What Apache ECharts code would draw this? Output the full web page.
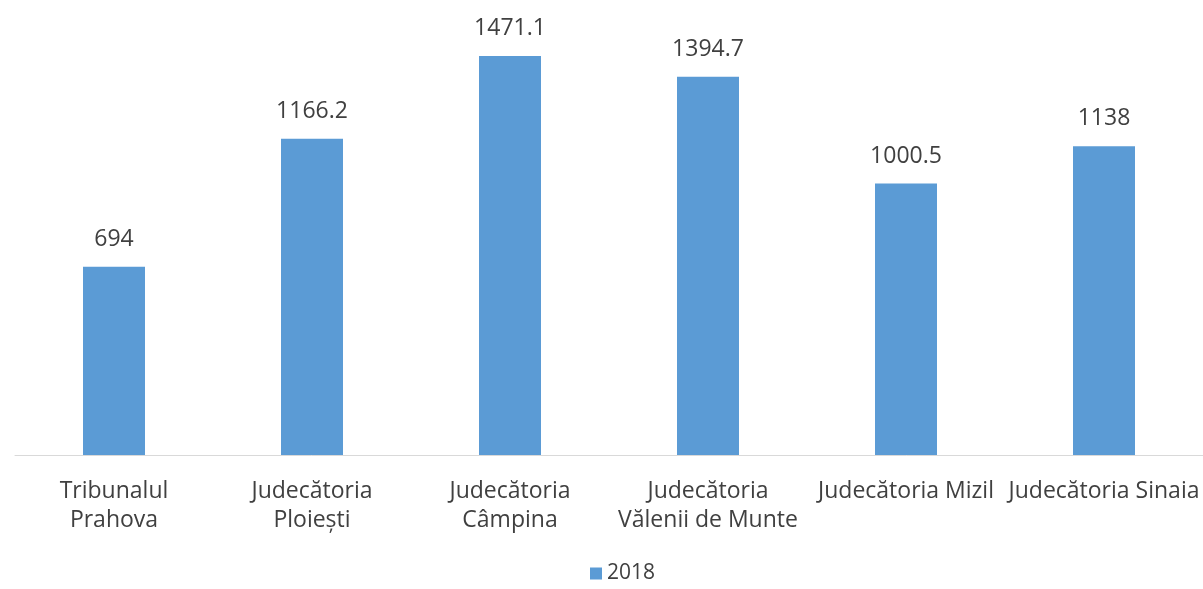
<!DOCTYPE html>
<html>
<head>
<meta charset="utf-8">
<script src="https://cdn.jsdelivr.net/npm/echarts@6/dist/echarts.min.js"></script>
<style>
  html, body { margin: 0; padding: 0; background: #fff; }
  #chart { width: 1203px; height: 589px; }
</style>
</head>
<body>
<div id="chart"></div>
<script>
// categories and values
const categories = [
    'Tribunalul\nPrahova',
    'Judecătoria\nPloiești',
    'Judecătoria\nCâmpina',
    'Judecătoria\nVălenii de Munte',
    'Judecătoria Mizil',
    'Judecătoria Sinaia'
];
const values2018 = [694, 1166.2, 1471.1, 1394.7, 1000.5, 1138];

const textColor = '#404040';
const font = 'Open Sans, Noto Sans, sans-serif';

const myChart = echarts.init(document.getElementById('chart'));
myChart.setOption({
    backgroundColor: '#fff',
    animation: false,
    legend: {
        bottom: 0,
        left: 585,
        itemWidth: 12,
        itemHeight: 12,
        icon: 'rect',
        itemGap: 6,
        textStyle: { color: textColor, fontSize: 21, fontFamily: font },
        data: ['2018']
    },
    grid: {
        left: 15,
        right: -2,
        top: 21,
        bottom: 134,
        containLabel: false
    },
    xAxis: {
        type: 'category',
        data: categories,
        axisLine: { lineStyle: { color: '#d9d9d9', width: 1 } },
        axisTick: { show: false },
        axisLabel: {
            interval: 0,
            color: textColor,
            fontSize: 23,
            fontFamily: font,
            lineHeight: 29,
            margin: 22
        }
    },
    yAxis: {
        type: 'value',
        min: 0,
        max: 1600,
        show: false,
        splitLine: { show: false }
    },
    series: [{
        name: '2018',
        type: 'bar',
        data: values2018,
        barWidth: 62,
        itemStyle: { color: '#5B9BD5' },
        label: {
            show: true,
            position: 'top',
            distance: 16,
            color: textColor,
            fontSize: 23,
            fontFamily: font
        }
    }]
});
</script>
</body>
</html>
